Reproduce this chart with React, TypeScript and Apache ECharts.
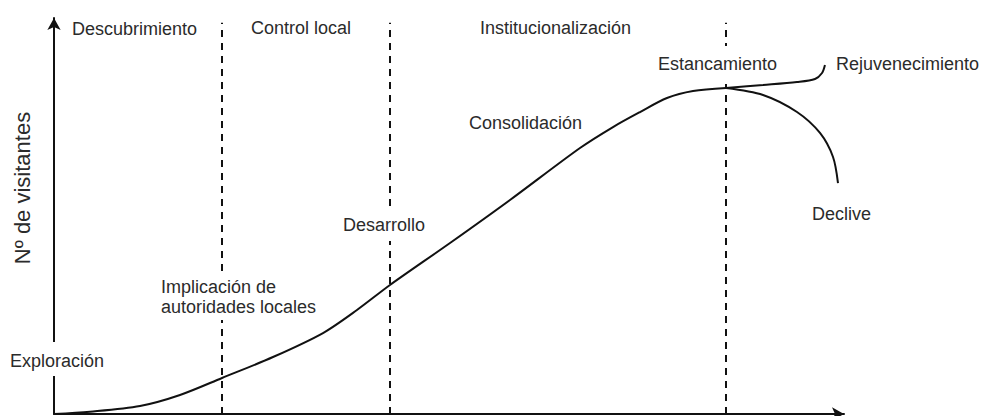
import React, { useEffect, useRef } from "react";
import * as echarts from "echarts";

// Main curve: time (x) vs visitors (y), in data units (0..100)
const tiempo = [0, 4.56, 10.89, 15.95, 21.27, 27.72, 34.05, 38.35, 42.53, 50.13, 57.72, 66.58, 70.76, 74.18, 77.59, 80.89, 85.06];
const visitantes = [0, 0.58, 2.02, 4.8, 9.09, 14.39, 20.45, 26.26, 32.58, 43.18, 54.04, 67.17, 72.47, 76.26, 79.8, 81.57, 82.32];
// Rejuvenation branch
const tiempoRejuv = [85.06, 89.75, 94.05, 96.33, 97.22, 97.59];
const visitantesRejuv = [82.32, 83.08, 83.84, 84.6, 86.11, 88.13];
// Decline branch
const tiempoDeclive = [85.06, 89.75, 94.05, 96.96, 98.61, 99.24];
const visitantesDeclive = [82.32, 80.56, 76.26, 70.96, 64.9, 58.33];
// Stage boundaries (dashed lines)
const limitesEtapas = [21.27, 42.53, 85.06];
const topeLimites = 98.8;

const etapasSuperiores = ["Descubrimiento", "Control local", "Institucionalización"];
const fases = ["Exploración", "Implicación de\nautoridades locales", "Desarrollo", "Consolidación", "Estancamiento", "Rejuvenecimiento", "Declive"];
const tituloEjeY = "Nº de visitantes";

const FONT = "'Liberation Sans', Arial, sans-serif";
const TXT = "#2b2b2b";

function pairs(xs: number[], ys: number[]) {
  return xs.map((x, i) => [x, ys[i]]);
}

export default function App() {
  const ref = useRef<HTMLDivElement>(null);
  useEffect(() => {
    if (!ref.current) return;
    const chart = echarts.init(ref.current, undefined, { renderer: "svg" });
    const txt = (text: string, x: number, y: number, extra: any = {}) => ({
      type: "text",
      x,
      y,
      z: 110,
      style: {
        text,
        fontFamily: FONT,
        fontSize: 18,
        fill: TXT,
        align: "left",
        verticalAlign: "middle",
        lineHeight: 20,
        ...extra,
      },
    });
    const cover = (x: number, y: number, w: number, h: number) => ({
      type: "rect",
      z: 100,
      shape: { x, y, width: w, height: h },
      style: { fill: "#fff" },
    });
    const lineStyle = { color: "#111", width: 2 };
    const axisCommon = {
      type: "value",
      min: 0,
      max: 100,
      axisLine: {
        show: true,
        symbol: ["none", "arrow"],
        symbolSize: [10, 12],
        lineStyle: { color: "#111", width: 2 },
      },
      axisTick: { show: false },
      axisLabel: { show: false },
      splitLine: { show: false },
    };
    chart.setOption({
      animation: false,
      grid: { left: 54, right: 139, top: 18, bottom: 2 },
      xAxis: { ...axisCommon },
      yAxis: { ...axisCommon },
      series: [
        {
          type: "line",
          data: pairs(tiempo, visitantes),
          smooth: 0.3,
          symbol: "none",
          lineStyle,
          z: 3,
          markLine: {
            silent: true,
            symbol: ["none", "none"],
            label: { show: false },
            lineStyle: { color: "#111", width: 2, type: [7, 6] },
            data: limitesEtapas.map((x) => [
              { coord: [x, 0] },
              { coord: [x, topeLimites] },
            ]),
          },
        },
        {
          type: "line",
          data: pairs(tiempoRejuv, visitantesRejuv),
          smooth: 0.3,
          symbol: "none",
          lineStyle,
        },
        {
          type: "line",
          data: pairs(tiempoDeclive, visitantesDeclive),
          smooth: 0.3,
          symbol: "none",
          lineStyle,
        },
      ],
      graphic: [
        cover(47, 342, 14, 34),
        cover(215, 276, 14, 44),
        cover(383, 207, 14, 34),
        cover(720, 46, 14, 38),
        txt(etapasSuperiores[0], 72, 28.5),
        txt(etapasSuperiores[1], 251, 28),
        txt(etapasSuperiores[2], 480, 28),
        txt(fases[0], 10, 361),
        txt(fases[1], 161, 296.5),
        txt(fases[2], 343, 225),
        txt(fases[3], 469, 123),
        txt(fases[4], 658, 63.7),
        txt(fases[5], 836, 64),
        txt(fases[6], 812, 214),
        {
          type: "text",
          x: 22,
          y: 188,
          rotation: Math.PI / 2,
          z: 110,
          style: {
            text: tituloEjeY,
            fontFamily: FONT,
            fontSize: 22,
            fill: TXT,
            align: "center",
            verticalAlign: "middle",
          },
        },
      ],
    });
    return () => chart.dispose();
  }, []);
  return (
    <div
      ref={ref}
      style={{ position: "fixed", left: 0, top: 0, width: 983, height: 416, background: "#fff" }}
    />
  );
}
